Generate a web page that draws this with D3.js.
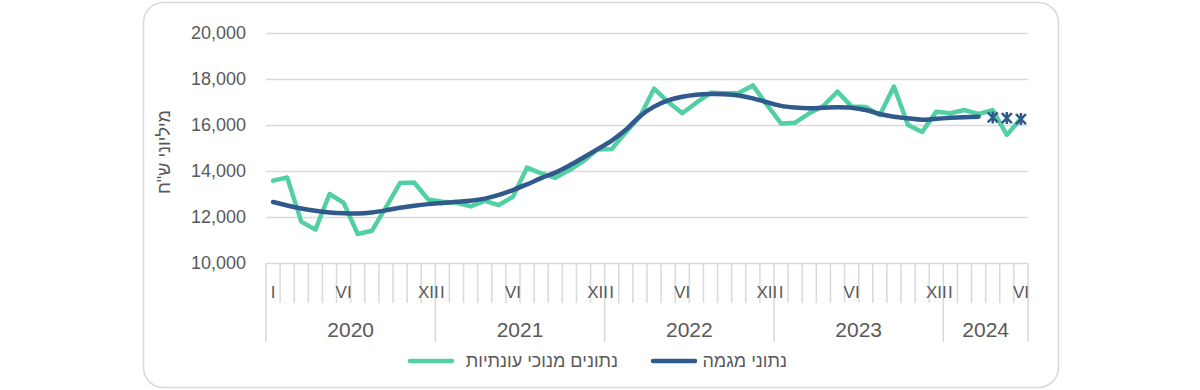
<!DOCTYPE html>
<html>
<head>
<meta charset="utf-8">
<script src="https://cdn.jsdelivr.net/npm/d3@7"></script>
<style>
  html, body { margin: 0; padding: 0; background: #fff; }
  svg { display: block; font-family: "Liberation Sans", Arial, sans-serif; }
</style>
</head>
<body>
<svg id="chart" width="1200" height="390"></svg>
<script>
// ---- data ----
const years = ["2020", "2021", "2022", "2023", "2024"];
const monthsInYear = [12, 12, 12, 12, 6];
const monthLabels = ["I", "", "", "", "", "VI", "", "", "", "", "", "XII"];
const yTicks = [10000, 12000, 14000, 16000, 18000, 20000];

const seasonal = [
  13580, 13720, 11800, 11450, 13000, 12620, 11260, 11400, 12420, 13480, 13500, 12760,
  12660, 12620, 12460, 12700, 12520, 12880, 14150, 13900, 13700, 14040, 14430, 14940,
  14960, 15680, 16360, 17580, 17000, 16510, 16970, 17400, 17380, 17390, 17720, 16870,
  16070, 16100, 16510, 16830, 17450, 16800, 16780, 16430, 17670, 16000, 15700, 16580,
  16510, 16650, 16480, 16650, 15570, 16280
];
const trend = [
  12650, 12500, 12370, 12270, 12200, 12160, 12150, 12200, 12290, 12400, 12490, 12560,
  12610, 12660, 12710, 12800, 12960, 13170, 13420, 13690, 13930, 14240, 14590, 14950,
  15320, 15790, 16380, 16800, 17070, 17230, 17320, 17350, 17340, 17280, 17160, 16990,
  16830, 16760, 16730, 16750, 16770, 16750, 16650, 16480, 16360, 16290, 16230, 16270,
  16310, 16340, 16360
];
const trendStars = [16330, 16300, 16260]; // months 52-54 (estimates)

const seriesNames = ["נתונים מנוכי עונתיות", "נתוני מגמה"];
const yTitle = "מיליוני ש\"ח";

// ---- build categories ----
const categories = [];
years.forEach((yr, yi) => {
  for (let m = 0; m < monthsInYear[yi]; m++) {
    categories.push({ year: yr, month: m, label: monthLabels[m] });
  }
});
const N = categories.length;

// ---- styles ----
const GREEN = "#52cfa3";
const BLUE = "#305a8c";
const GRID = "#d9d9d9";
const TEXT = "#595959";

const svg = d3.select("#chart");

// frame
svg.append("rect")
  .attr("x", 143.5).attr("y", 2.5)
  .attr("width", 915).attr("height", 385)
  .attr("rx", 20).attr("ry", 20)
  .attr("fill", "#fff").attr("stroke", GRID).attr("stroke-width", 1.5);

const pLeft = 266, pRight = 1028, pTop = 33, pBottom = 263;

const x = d3.scaleLinear().domain([0, N]).range([pLeft, pRight]);
const xc = i => x(i + 0.5);
const y = d3.scaleLinear().domain([10000, 20000]).range([pBottom, pTop]);

// gridlines + y labels
const yAxis = d3.axisLeft(y).tickValues(yTicks)
  .tickSize(-(pRight - pLeft)).tickPadding(20)
  .tickFormat(d3.format(","));
const gy = svg.append("g").attr("transform", `translate(${pLeft},0)`).call(yAxis);
gy.select(".domain").remove();
gy.selectAll(".tick line").attr("stroke", GRID).attr("stroke-width", 1.5);
gy.selectAll(".tick text")
  .attr("fill", TEXT).attr("font-size", 18)
  .attr("font-family", "\"Liberation Sans\", Arial, sans-serif");

// category axis
const gx = svg.append("g");
for (let k = 0; k <= N; k++) {
  const isYearEdge = k === 0 || k === N || categories[k].month === 0;
  gx.append("line")
    .attr("x1", x(k)).attr("x2", x(k))
    .attr("y1", pBottom).attr("y2", isYearEdge ? 342 : 303)
    .attr("stroke", GRID).attr("stroke-width", 1.5);
}
categories.forEach((c, i) => {
  if (!c.label) return;
  gx.append("text")
    .attr("x", xc(i)).attr("y", 298)
    .attr("text-anchor", "middle")
    .attr("fill", TEXT).attr("font-size", 17)
    .text(c.label);
});
let start = 0;
years.forEach((yr, yi) => {
  const end = start + monthsInYear[yi];
  gx.append("text")
    .attr("x", (x(start) + x(end)) / 2).attr("y", 337)
    .attr("text-anchor", "middle")
    .attr("fill", TEXT).attr("font-size", 21)
    .text(yr);
  start = end;
});

// y title
svg.append("text")
  .attr("transform", "translate(170,152) rotate(-90)")
  .attr("text-anchor", "middle")
  .attr("direction", "rtl")
  .attr("fill", TEXT).attr("font-size", 18)
  .text(yTitle);

// lines
const lineGreen = d3.line().x((d, i) => xc(i)).y(d => y(d)).curve(d3.curveLinear);
svg.append("path").datum(seasonal)
  .attr("d", lineGreen)
  .attr("fill", "none").attr("stroke", GREEN).attr("stroke-width", 4.5)
  .attr("stroke-linejoin", "round").attr("stroke-linecap", "round");

const lineBlue = d3.line().x((d, i) => xc(i)).y(d => y(d)).curve(d3.curveCatmullRom.alpha(0.5));
svg.append("path").datum(trend)
  .attr("d", lineBlue)
  .attr("fill", "none").attr("stroke", BLUE).attr("stroke-width", 4.5)
  .attr("stroke-linejoin", "round").attr("stroke-linecap", "round");

// star (asterisk) markers
const s = 5;
svg.append("g").selectAll("path")
  .data(trendStars)
  .join("path")
  .attr("transform", (d, i) => `translate(${xc(trend.length + i)},${y(d)})`)
  .attr("d", `M0,${-s - 1}L0,${s + 1}M${-s},${-s}L${s},${s}M${-s},${s}L${s},${-s}`)
  .attr("stroke", BLUE).attr("stroke-width", 2.5).attr("fill", "none");

// legend
const legend = [
  { name: seriesNames[0], color: GREEN, x1: 410, x2: 452, tx: 618 },
  { name: seriesNames[1], color: BLUE, x1: 653, x2: 695, tx: 787 }
];
legend.forEach(l => {
  svg.append("line")
    .attr("x1", l.x1).attr("x2", l.x2).attr("y1", 361).attr("y2", 361)
    .attr("stroke", l.color).attr("stroke-width", 4.5).attr("stroke-linecap", "round");
  svg.append("text")
    .attr("x", l.tx).attr("y", 367)
    .attr("text-anchor", "start").attr("direction", "rtl")
    .attr("fill", TEXT).attr("font-size", 18)
    .text(l.name);
});
</script>
</body>
</html>
